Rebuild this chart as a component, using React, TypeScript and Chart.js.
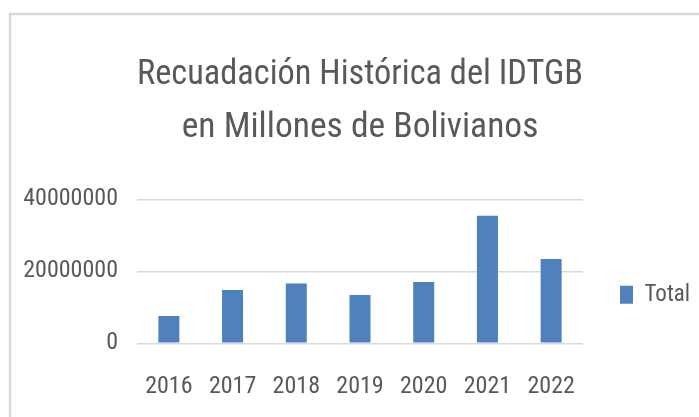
import React, { useEffect, useRef } from "react";
import { Chart, registerables } from "chart.js";

Chart.register(...registerables);

const categories = ["2016", "2017", "2018", "2019", "2020", "2021", "2022"];
const totalValues = [7600000, 14800000, 16600000, 13400000, 17000000, 35400000, 23400000];
const titleLines = ["Recuadación Histórica del IDTGB", "en Millones de Bolivianos"];
const seriesName = "Total";

const FONT = "'Roboto Condensed', 'Liberation Sans Narrow', 'DejaVu Sans Condensed', sans-serif";
const TEXT = "#595959";
const LEGEND_FONT = 23;
const LEGEND_PAD = 37;
const PLOT_RIGHT = 583;

const framePlugin = {
  id: "frame",
  beforeDraw(chart: any) {
    const ctx = chart.ctx;
    ctx.save();
    ctx.fillStyle = "#ffffff";
    ctx.fillRect(0, 0, chart.width, chart.height);
    ctx.strokeStyle = "#d9d9d9";
    ctx.lineWidth = 2.5;
    ctx.strokeRect(10, 14, chart.width + 20, chart.height + 20);
    ctx.restore();
  },
};

export default function App() {
  const ref = useRef<HTMLCanvasElement | null>(null);
  useEffect(() => {
    if (!ref.current) return;
    const chart = new Chart(ref.current, {
      type: "bar",
      data: {
        labels: categories,
        datasets: [
          {
            label: seriesName,
            data: totalValues,
            backgroundColor: "#4f81bd",
            borderWidth: 0,
            categoryPercentage: 1,
            barPercentage: 0.33,
          },
        ],
      },
      options: {
        responsive: false,
        maintainAspectRatio: false,
        animation: false,
        layout: { padding: { left: 0, right: 0, top: 0, bottom: 0 } },
        plugins: {
          tooltip: { enabled: false },
          title: {
            display: true,
            fullSize: false,
            text: titleLines,
            color: TEXT,
            font: { family: FONT, size: 35.5, weight: "normal", lineHeight: 53 / 35.5 },
            padding: { top: 48.3, bottom: 45 },
          },
          legend: {
            display: true,
            position: "right",
            align: "end",
            fullSize: false,
            maxWidth: 699 - PLOT_RIGHT,
            labels: {
              color: TEXT,
              font: { family: FONT, size: LEGEND_FONT },
              boxWidth: 13,
              boxHeight: 18,
              padding: LEGEND_PAD,
            },
          },
        },
        scales: {
          x: {
            grid: { display: false },
            border: { display: false },
            ticks: { color: TEXT, font: { family: FONT, size: 24 }, padding: 21, maxRotation: 0 },
            afterFit(scale: any) {
              scale.height = 417 - 343.3;
            },
          },
          y: {
            min: 0,
            max: 40000000,
            grid: { color: "#d9d9d9", lineWidth: 1.5, drawTicks: false },
            border: { display: false },
            ticks: {
              stepSize: 20000000,
              color: TEXT,
              font: { family: FONT, size: 24 },
              padding: 19,
              callback: (v: any) => String(v),
            },
            afterFit(scale: any) {
              scale.width = 137;
            },
          },
        },
      },
      plugins: [framePlugin],
    });
    return () => chart.destroy();
  }, []);
  return (
    <div style={{ position: "absolute", left: 0, top: 0, width: 699, height: 417 }}>
      <canvas ref={ref} width={699} height={417} style={{ width: 699, height: 417 }} />
    </div>
  );
}
